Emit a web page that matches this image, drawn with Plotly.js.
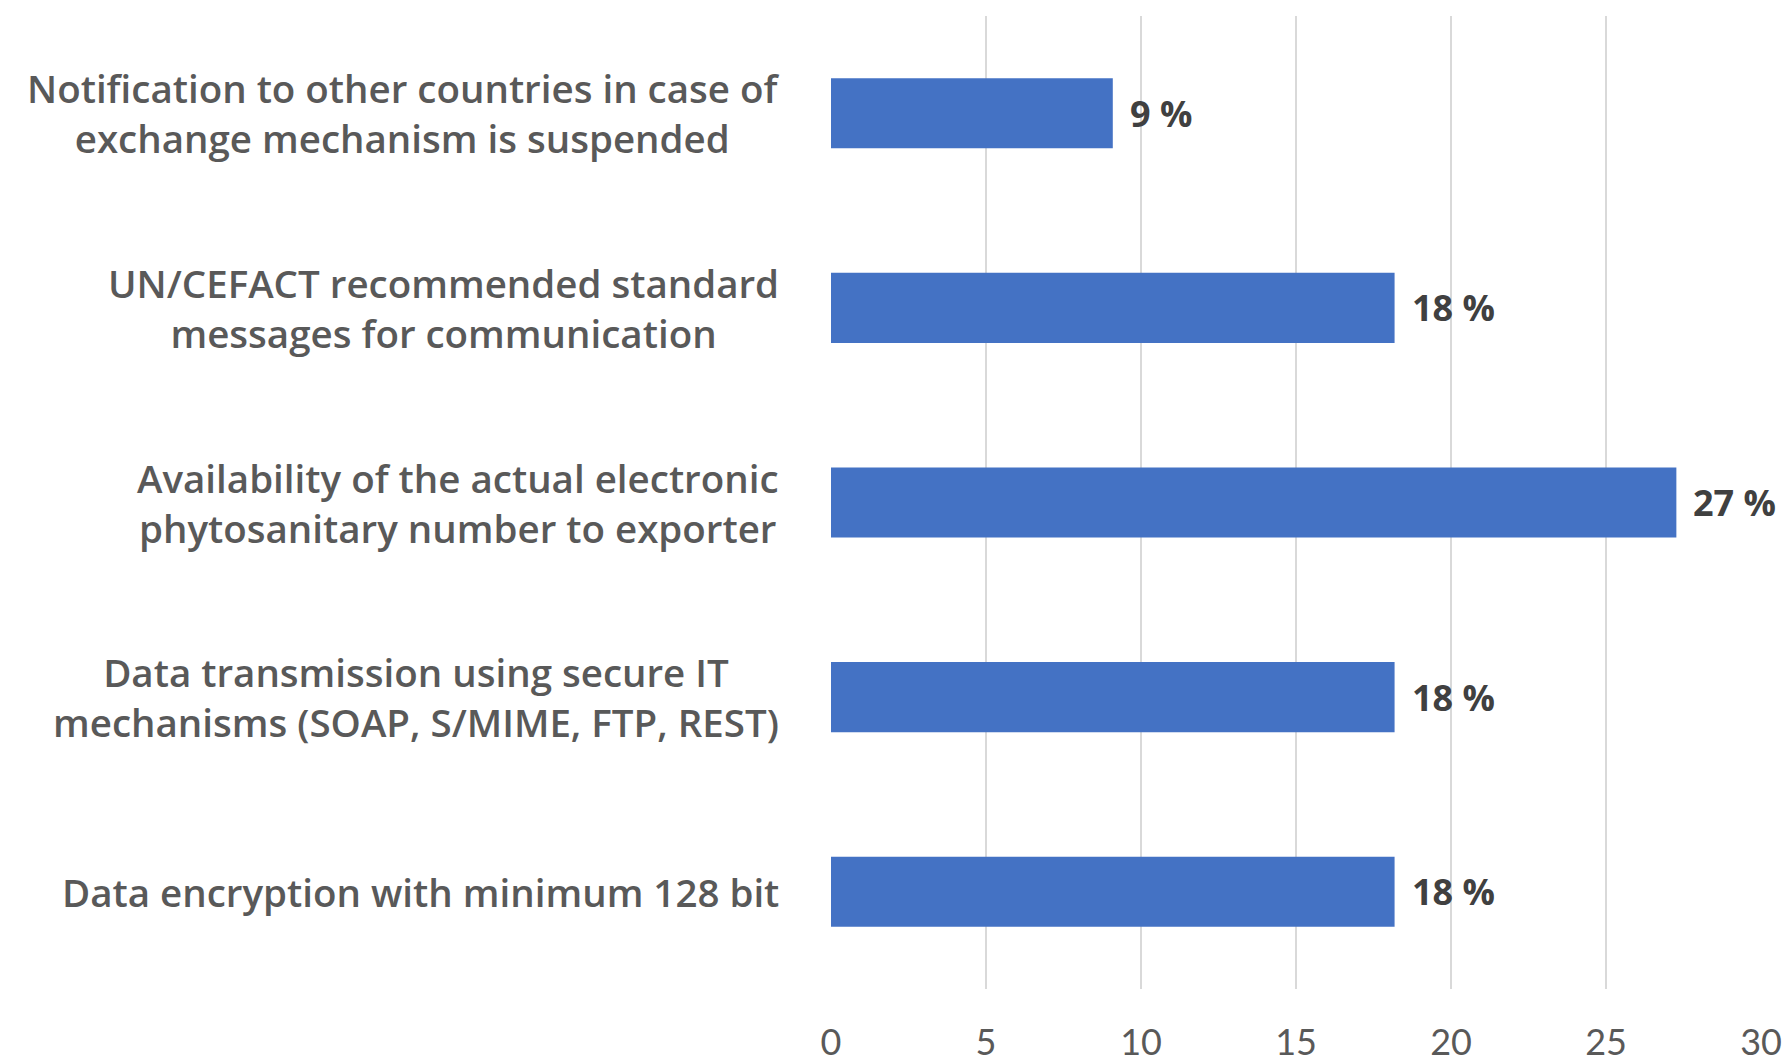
<!DOCTYPE html>
<html>
<head>
<meta charset="utf-8">
<script src="https://cdn.plot.ly/plotly-3.0.1.min.js"></script>
<style>
  html, body { margin: 0; padding: 0; background: #ffffff; }
  #chart { width: 1790px; height: 1062px; }
</style>
</head>
<body>
<div id="chart"></div>
<script>
// Categories, top to bottom as shown in the reference
const categories = [
  "Notification to other countries in case of<br>exchange mechanism is suspended",
  "UN/CEFACT recommended standard<br>messages for communication",
  "Availability of the actual electronic<br>phytosanitary number to exporter",
  "Data transmission using secure IT<br>mechanisms (SOAP, S/MIME, FTP, REST)",
  "Data encryption with minimum 128 bit"
];
// Percent of respondents
const values = [9.09, 18.18, 27.27, 18.18, 18.18];
const valueLabels = ["9 %", "18 %", "27 %", "18 %", "18 %"];
const xTicks = [0, 5, 10, 15, 20, 25, 30];

const trace = {
  type: "bar",
  orientation: "h",
  x: values,
  y: categories,
  marker: { color: "#4472C4" },
  hoverinfo: "skip"
};

const annotations = [];
categories.forEach((c, i) => {
  annotations.push({
    xref: "paper", yref: "y",
    x: 0, y: c,
    xanchor: "right", yanchor: "middle",
    xshift: -50,
    align: "center",
    text: c,
    showarrow: false,
    font: { family: "'Open Sans', Lato, sans-serif", size: 38.5, color: "#595959", weight: 600 }
  });
  annotations.push({
    xref: "x", yref: "y",
    x: values[i], y: c,
    xanchor: "left", yanchor: "middle",
    xshift: 15,
    text: valueLabels[i],
    showarrow: false,
    font: { family: "'Open Sans', Lato, sans-serif", size: 36, color: "#404040", weight: 700 }
  });
});

const layout = {
  width: 1790,
  height: 1062,
  margin: { l: 831, r: 29, t: 16, b: 73, pad: 0 },
  paper_bgcolor: "#ffffff",
  plot_bgcolor: "#ffffff",
  showlegend: false,
  bargap: 0.64,
  xaxis: {
    range: [0, 30],
    tickvals: xTicks,
    ticktext: xTicks.map(String),
    showgrid: true,
    gridcolor: "#d9d9d9",
    gridwidth: 1.5,
    zeroline: false,
    showline: false,
    ticks: "",
    ticklabelstandoff: 29,
    tickfont: { family: "Lato, 'Open Sans', sans-serif", size: 36, color: "#595959" },
    fixedrange: true
  },
  yaxis: {
    type: "category",
    autorange: "reversed",
    showticklabels: false,
    showgrid: false,
    zeroline: false,
    showline: false,
    ticks: "",
    fixedrange: true
  },
  annotations: annotations
};

Plotly.newPlot("chart", [trace], layout, { displayModeBar: false, staticPlot: true });
</script>
</body>
</html>
